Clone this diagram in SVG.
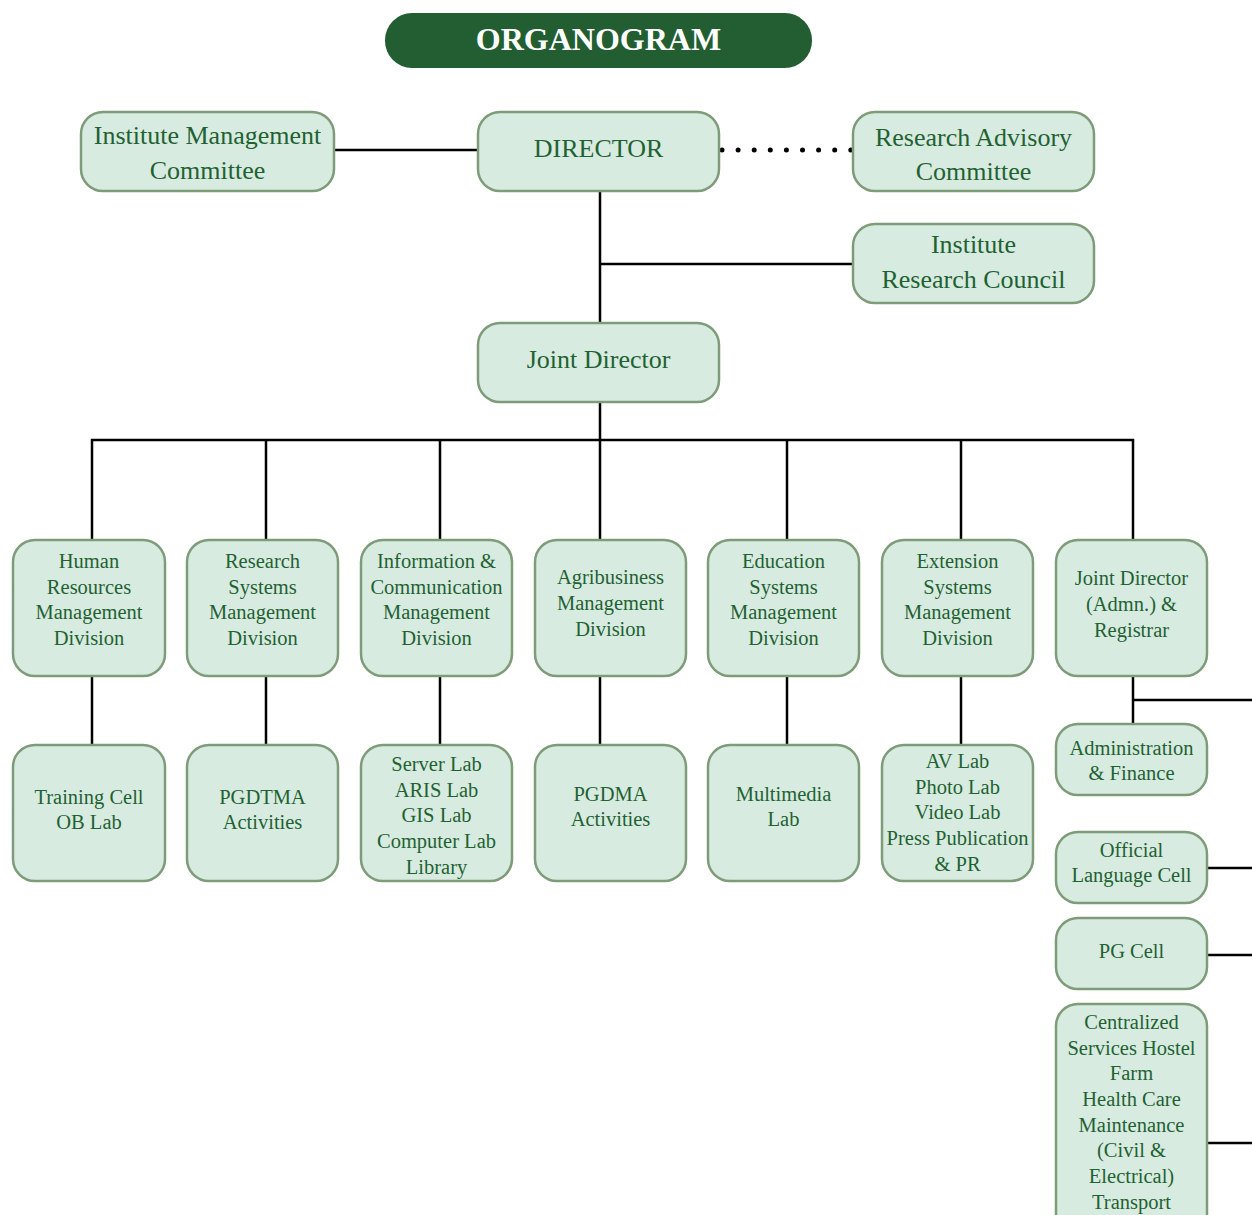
<svg xmlns="http://www.w3.org/2000/svg" width="1252" height="1215" viewBox="0 0 1252 1215">
<style>
.box{fill:#d8ebe1;stroke:#7f9c7a;stroke-width:2.5}
.t{fill:#1f6232;text-anchor:middle}
.big{font-size:26px}
.sm{font-size:20.5px}
.ln{stroke:#000;stroke-width:2.5;fill:none}
.dot{stroke:#000;stroke-width:5;stroke-linecap:round;stroke-dasharray:0 16.1;fill:none}
</style>
<rect width="1252" height="1215" fill="#fff"/>
<g id="title">
<rect x="385" y="13" width="427" height="55" rx="27" fill="#225e31"/>
<text x="598.5" y="50" font-family="Liberation Serif, serif" font-weight="bold" font-size="32" fill="#fff" text-anchor="middle">ORGANOGRAM</text>
</g>
<g id="connectors">
<line class="ln" x1="334" y1="150" x2="478" y2="150"/>
<line class="dot" x1="722" y1="150" x2="851" y2="150"/>
<line class="ln" x1="600" y1="191" x2="600" y2="323"/>
<line class="ln" x1="600" y1="264" x2="853" y2="264"/>
<line class="ln" x1="600" y1="402" x2="600" y2="540"/>
<polyline class="ln" points="92,540 92,440 1133,440 1133,540"/>
<line class="ln" x1="266" y1="440" x2="266" y2="540"/>
<line class="ln" x1="440" y1="440" x2="440" y2="540"/>
<line class="ln" x1="787" y1="440" x2="787" y2="540"/>
<line class="ln" x1="961" y1="440" x2="961" y2="540"/>
<line class="ln" x1="92" y1="676" x2="92" y2="745"/>
<line class="ln" x1="266" y1="676" x2="266" y2="745"/>
<line class="ln" x1="440" y1="676" x2="440" y2="745"/>
<line class="ln" x1="600" y1="676" x2="600" y2="745"/>
<line class="ln" x1="787" y1="676" x2="787" y2="745"/>
<line class="ln" x1="961" y1="676" x2="961" y2="745"/>
<line class="ln" x1="1133" y1="676" x2="1133" y2="724"/>
<line class="ln" x1="1133" y1="700" x2="1252" y2="700"/>
<line class="ln" x1="1207" y1="868" x2="1252" y2="868"/>
<line class="ln" x1="1207" y1="955" x2="1252" y2="955"/>
<line class="ln" x1="1207" y1="1143" x2="1252" y2="1143"/>
</g>
<g font-family="Liberation Serif, serif">
<g id="imc">
<rect class="box" x="81" y="112" width="253" height="79" rx="22"/>
<text class="t big" x="207.5" y="144">Institute Management</text>
<text class="t big" x="207.5" y="179">Committee</text>
</g>
<g id="director">
<rect class="box" x="478" y="112" width="241" height="79" rx="22"/>
<text class="t big" x="598.5" y="157">DIRECTOR</text>
</g>
<g id="rac">
<rect class="box" x="853" y="112" width="241" height="79" rx="22"/>
<text class="t big" x="973.5" y="146">Research Advisory</text>
<text class="t big" x="973.5" y="180">Committee</text>
</g>
<g id="irc">
<rect class="box" x="853" y="224" width="241" height="79" rx="22"/>
<text class="t big" x="973.5" y="253">Institute</text>
<text class="t big" x="973.5" y="288">Research Council</text>
</g>
<g id="jd">
<rect class="box" x="478" y="323" width="241" height="79" rx="22"/>
<text class="t big" x="598.5" y="368">Joint Director</text>
</g>
<g id="hrmd">
<rect class="box" x="13" y="540" width="152" height="136" rx="22"/>
<text class="t sm" x="89" y="568">Human</text>
<text class="t sm" x="89" y="594">Resources</text>
<text class="t sm" x="89" y="619">Management</text>
<text class="t sm" x="89" y="645">Division</text>
</g>
<g id="rsmd">
<rect class="box" x="187" y="540" width="151" height="136" rx="22"/>
<text class="t sm" x="262.5" y="568">Research</text>
<text class="t sm" x="262.5" y="594">Systems</text>
<text class="t sm" x="262.5" y="619">Management</text>
<text class="t sm" x="262.5" y="645">Division</text>
</g>
<g id="icmd">
<rect class="box" x="361" y="540" width="151" height="136" rx="22"/>
<text class="t sm" x="436.5" y="568">Information &amp;</text>
<text class="t sm" x="436.5" y="594">Communication</text>
<text class="t sm" x="436.5" y="619">Management</text>
<text class="t sm" x="436.5" y="645">Division</text>
</g>
<g id="abmd">
<rect class="box" x="535" y="540" width="151" height="136" rx="22"/>
<text class="t sm" x="610.5" y="584">Agribusiness</text>
<text class="t sm" x="610.5" y="610">Management</text>
<text class="t sm" x="610.5" y="636">Division</text>
</g>
<g id="esmd">
<rect class="box" x="708" y="540" width="151" height="136" rx="22"/>
<text class="t sm" x="783.5" y="568">Education</text>
<text class="t sm" x="783.5" y="594">Systems</text>
<text class="t sm" x="783.5" y="619">Management</text>
<text class="t sm" x="783.5" y="645">Division</text>
</g>
<g id="exsmd">
<rect class="box" x="882" y="540" width="151" height="136" rx="22"/>
<text class="t sm" x="957.5" y="568">Extension</text>
<text class="t sm" x="957.5" y="594">Systems</text>
<text class="t sm" x="957.5" y="619">Management</text>
<text class="t sm" x="957.5" y="645">Division</text>
</g>
<g id="jdadmn">
<rect class="box" x="1056" y="540" width="151" height="136" rx="22"/>
<text class="t sm" x="1131.5" y="585">Joint Director</text>
<text class="t sm" x="1131.5" y="611">(Admn.) &amp;</text>
<text class="t sm" x="1131.5" y="637">Registrar</text>
</g>
<g id="training">
<rect class="box" x="13" y="745" width="152" height="136" rx="22"/>
<text class="t sm" x="89" y="804">Training Cell</text>
<text class="t sm" x="89" y="829">OB Lab</text>
</g>
<g id="pgdtma">
<rect class="box" x="187" y="745" width="151" height="136" rx="22"/>
<text class="t sm" x="262.5" y="804">PGDTMA</text>
<text class="t sm" x="262.5" y="829">Activities</text>
</g>
<g id="labs">
<rect class="box" x="361" y="745" width="151" height="136" rx="22"/>
<text class="t sm" x="436.5" y="771">Server Lab</text>
<text class="t sm" x="436.5" y="797">ARIS Lab</text>
<text class="t sm" x="436.5" y="822">GIS Lab</text>
<text class="t sm" x="436.5" y="848">Computer Lab</text>
<text class="t sm" x="436.5" y="874">Library</text>
</g>
<g id="pgdma">
<rect class="box" x="535" y="745" width="151" height="136" rx="22"/>
<text class="t sm" x="610.5" y="801">PGDMA</text>
<text class="t sm" x="610.5" y="826">Activities</text>
</g>
<g id="multimedia">
<rect class="box" x="708" y="745" width="151" height="136" rx="22"/>
<text class="t sm" x="783.5" y="801">Multimedia</text>
<text class="t sm" x="783.5" y="826">Lab</text>
</g>
<g id="avlab">
<rect class="box" x="882" y="745" width="151" height="136" rx="22"/>
<text class="t sm" x="957.5" y="768">AV Lab</text>
<text class="t sm" x="957.5" y="794">Photo Lab</text>
<text class="t sm" x="957.5" y="819">Video Lab</text>
<text class="t sm" x="957.5" y="845">Press Publication</text>
<text class="t sm" x="957.5" y="871">&amp; PR</text>
</g>
<g id="adminfin">
<rect class="box" x="1056" y="724" width="151" height="71" rx="22"/>
<text class="t sm" x="1131.5" y="755">Administration</text>
<text class="t sm" x="1131.5" y="780">&amp; Finance</text>
</g>
<g id="olc">
<rect class="box" x="1056" y="832" width="151" height="71" rx="22"/>
<text class="t sm" x="1131.5" y="857">Official</text>
<text class="t sm" x="1131.5" y="882">Language Cell</text>
</g>
<g id="pgcell">
<rect class="box" x="1056" y="918" width="151" height="71" rx="22"/>
<text class="t sm" x="1131.5" y="958">PG Cell</text>
</g>
<g id="central">
<rect class="box" x="1056" y="1004" width="151" height="240" rx="22"/>
<text class="t sm" x="1131.5" y="1029">Centralized</text>
<text class="t sm" x="1131.5" y="1055">Services Hostel</text>
<text class="t sm" x="1131.5" y="1080">Farm</text>
<text class="t sm" x="1131.5" y="1106">Health Care</text>
<text class="t sm" x="1131.5" y="1132">Maintenance</text>
<text class="t sm" x="1131.5" y="1157">(Civil &amp;</text>
<text class="t sm" x="1131.5" y="1183">Electrical)</text>
<text class="t sm" x="1131.5" y="1209">Transport</text>
</g>
</g>
</svg>
